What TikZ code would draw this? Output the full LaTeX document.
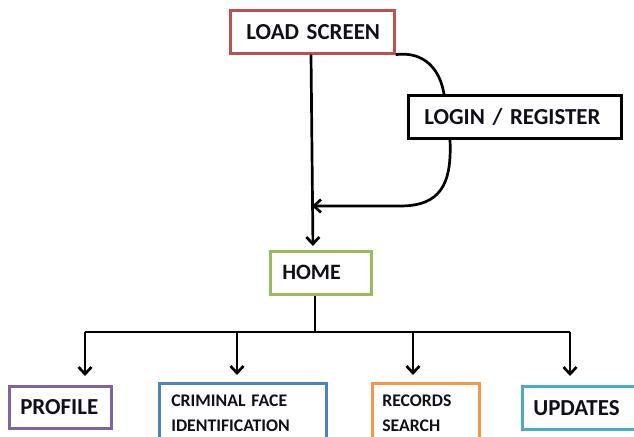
\documentclass[tikz,border=0pt]{standalone}
\usepackage{fontspec}
\setmainfont{Carlito}
\usetikzlibrary{arrows.meta}
\definecolor{cred}{HTML}{C0504D}
\definecolor{cgreen}{HTML}{9BBB59}
\definecolor{cpurple}{HTML}{8064A2}
\definecolor{cblue}{HTML}{4F81BD}
\definecolor{corange}{HTML}{F79646}
\definecolor{ccyan}{HTML}{4BACC6}
\definecolor{ctext}{HTML}{10101A}
\tikzset{
  box/.style={draw, line width=2.6bp, rectangle, anchor=north west, align=left,
    inner ysep=0pt, text=ctext, font=\bfseries\fontsize{23}{26}\selectfont},
  small/.style={font=\bfseries\fontsize{17.8}{25}\selectfont},
  conn/.style={line width=2.7bp, black},
  arr/.style={conn, -{Straight Barb[length=7bp,width=13bp,line width=2.7bp]}}
}
\begin{document}
\begin{tikzpicture}[x=1bp,y=-1bp]
\clip (0,0) rectangle (634,437);
\fill[white] (0,0) rectangle (634,437);
% boxes
\node[box, draw=cred, minimum width=164bp, minimum height=43bp, inner xsep=16bp, text width=132bp] (load) at (229,9) {\mbox{LOAD SCREEN}};
\node[box, draw=black, minimum width=213bp, minimum height=43bp, inner xsep=16bp, text width=181bp] (login) at (407,94) {\mbox{LOGIN / REGISTER}};
\node[box, draw=cgreen, minimum width=101bp, minimum height=43bp, inner xsep=12bp, text width=77bp, font=\bfseries\fontsize{22}{24}\selectfont] (home) at (269,250) {\mbox{HOME}};
\node[box, draw=cpurple, minimum width=102bp, minimum height=42bp, inner xsep=11bp, text width=80bp] (profile) at (8,385) {\mbox{PROFILE}};
\node[box, draw=cblue, small, minimum width=167bp, minimum height=60bp, inner xsep=12bp, text width=143bp] (crim) at (158,382) {\mbox{CRIMINAL FACE}\\\mbox{IDENTIFICATION}};
\node[box, draw=corange, small, minimum width=107bp, minimum height=60bp, inner xsep=10bp, text width=87bp] (rec) at (371,382) {\mbox{RECORDS}\\\mbox{SEARCH}};
\node[box, draw=ccyan, minimum width=122bp, minimum height=43bp, inner xsep=11bp, text width=100bp] (upd) at (521,385) {\mbox{UPDATES}};
% main vertical
\coordinate (merge) at (312,206);
\draw[arr, shorten >=4bp] (load.south -| 311,0) -- (313,250);
% login loop
\draw[conn] (load.south east) .. controls (425,51) and (440,70) .. (login.north west -| 444,0);
\draw[arr] (login.south west -| 450,0) .. controls (452,185) and (440,206) .. (400,206) -- (merge);
% home to branches
\coordinate (hb) at (315,332);
\coordinate (b1) at (85,332);
\coordinate (b2) at (237,332);
\coordinate (b3) at (413,332);
\coordinate (b4) at (570,332);
\draw[conn] (home.south -| hb) -- (hb);
\draw[conn] (b1) -- (b4);
\draw[arr, shorten >=9bp] (b1) -- (b1 |- profile.north);
\draw[arr, shorten >=7bp] (b2) -- (b2 |- crim.north);
\draw[arr, shorten >=7bp] (b3) -- (b3 |- rec.north);
\draw[arr, shorten >=9bp] (b4) -- (b4 |- upd.north);
\end{tikzpicture}
\end{document}
